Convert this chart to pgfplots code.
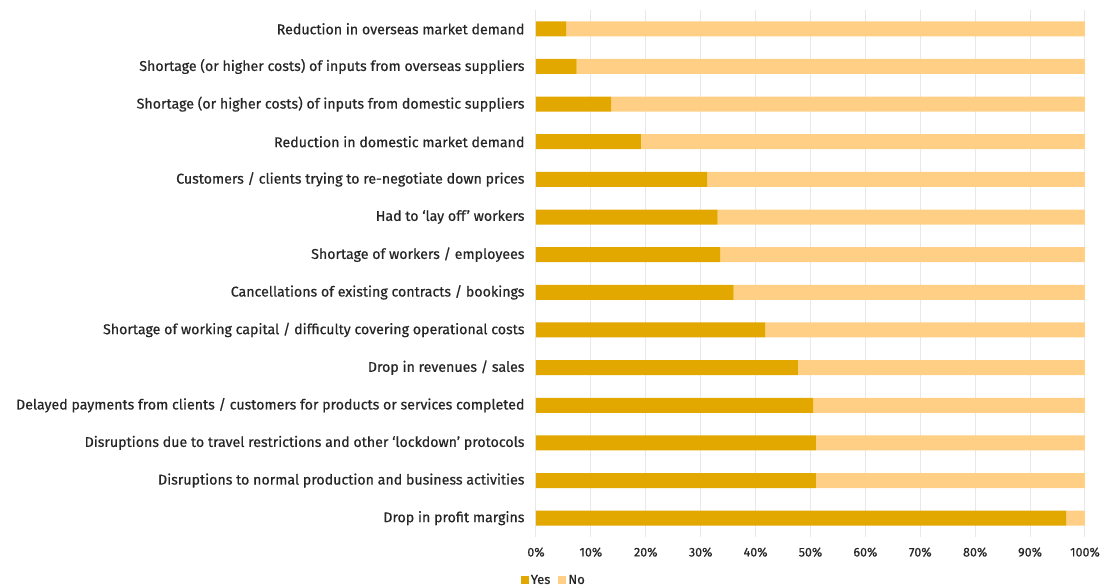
\documentclass[border=0pt]{standalone}
\usepackage{fontspec}
\setmainfont{Fira Sans}
\newfontfamily\lf{Fira Sans}[FakeBold=0.6]
\usepackage{pgfplots}
\pgfplotsset{compat=1.18}
\definecolor{yes}{HTML}{E2A800}
\definecolor{no}{HTML}{FFCF86}
\definecolor{txt}{HTML}{262626}
\definecolor{gridc}{HTML}{E8E8E8}
\begin{document}
\begin{tikzpicture}
\begin{axis}[
  at={(0pt,0pt)}, anchor=south west,
  xbar stacked, scale only axis,
  width=549pt, height=527pt,
  xmin=0, xmax=100, ymin=-0.5, ymax=13.5,
  bar width=15pt,
  ytick={0,...,13},
  yticklabels={
    Drop in profit margins,
    Disruptions to normal production and business activities,
    Disruptions due to travel restrictions and other ‘lockdown’ protocols,
    Delayed payments from clients / customers for products or services completed,
    Drop in revenues / sales,
    Shortage of working capital / difficulty covering operational costs,
    Cancellations of existing contracts / bookings,
    Shortage of workers / employees,
    Had to ‘lay off’ workers,
    Customers / clients trying to re-negotiate down prices,
    Reduction in domestic market demand,
    Shortage (or higher costs) of inputs from domestic suppliers,
    Shortage (or higher costs) of inputs from overseas suppliers,
    Reduction in overseas market demand},
  xtick={0,10,...,100},
  xticklabel={\pgfmathprintnumber{\tick}\%},
  /pgf/number format/assume math mode=true,
  xmajorgrids, grid style={gridc, line width=1pt},
  axis line style={draw=none}, major tick length=0pt,
  tick label style={font=\lf\fontsize{14.2}{16}\selectfont, text=txt},
  xticklabel style={font=\lf\fontsize{12.5}{14}\selectfont, yshift=-7pt},
  yticklabel style={xshift=-8pt},
  legend style={at={(axis description cs:-0.028,-0.082)}, anchor=west, draw=none,
    font=\lf\fontsize{13}{15}\selectfont, text=txt, legend columns=2,
    /tikz/every even column/.append style={column sep=6pt}, inner sep=0pt},
  legend image code/.code={\fill[#1] (0pt,-4pt) rectangle (8pt,4pt);},
]
\addplot[fill=yes, draw=none] coordinates {
  (96.6,0) (51.0,1) (51.0,2) (50.5,3) (47.7,4) (41.8,5) (36.0,6)
  (33.6,7) (33.1,8) (31.2,9) (19.1,10) (13.7,11) (7.4,12) (5.5,13)};
\addplot[fill=no, draw=none] coordinates {
  (3.4,0) (49.0,1) (49.0,2) (49.5,3) (52.3,4) (58.2,5) (64.0,6)
  (66.4,7) (66.9,8) (68.8,9) (80.9,10) (86.3,11) (92.6,12) (94.5,13)};
\legend{Yes, No}
\end{axis}
\pgfresetboundingbox
\path[use as bounding box] (-536pt,-50pt) rectangle (564pt,537pt);
\end{tikzpicture}
\end{document}
